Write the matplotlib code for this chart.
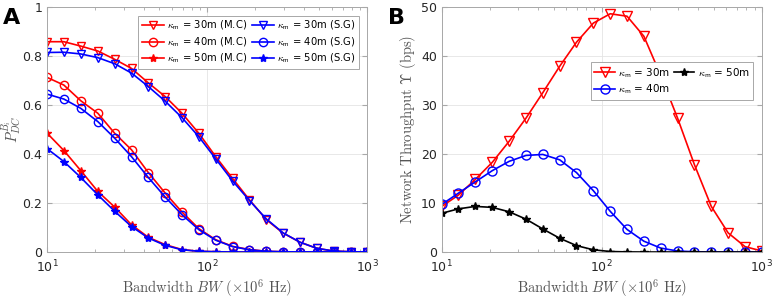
import matplotlib
matplotlib.use('Agg')
import matplotlib.pyplot as plt

plt.rcParams['font.family'] = ['DejaVu Sans']
plt.rcParams['mathtext.fontset'] = 'cm'

# bandwidth grid (x 10^6 Hz), 20 log-spaced points
bw = [10.0, 12.7, 16.2, 20.7, 26.4, 33.6, 42.8, 54.6, 69.5, 88.6,
      112.9, 143.8, 183.3, 233.6, 297.6, 379.3, 483.3, 615.8, 784.8, 1000.0]

# panel A: detection probability
p30_mc = [0.858, 0.858, 0.84, 0.82, 0.786, 0.749, 0.69, 0.634, 0.566, 0.484,
          0.389, 0.30, 0.213, 0.132, 0.077, 0.04, 0.015, 0.004, 0.001, 0.0]
p30_sg = [0.814, 0.815, 0.808, 0.793, 0.768, 0.73, 0.675, 0.615, 0.548, 0.47,
          0.38, 0.29, 0.21, 0.135, 0.078, 0.04, 0.015, 0.004, 0.001, 0.0]
p40_mc = [0.712, 0.681, 0.617, 0.566, 0.484, 0.417, 0.324, 0.24, 0.163, 0.095,
          0.05, 0.023, 0.01, 0.003, 0.001, 0.0, 0.0, 0.0, 0.0, 0.0]
p40_sg = [0.644, 0.624, 0.586, 0.532, 0.464, 0.389, 0.304, 0.224, 0.152, 0.091,
          0.048, 0.022, 0.009, 0.003, 0.001, 0.0, 0.0, 0.0, 0.0, 0.0]
p50_mc = [0.484, 0.414, 0.332, 0.247, 0.183, 0.111, 0.06, 0.03, 0.01, 0.003,
          0.001, 0.0, 0.0, 0.0, 0.0, 0.0, 0.0, 0.0, 0.0, 0.0]
p50_sg = [0.421, 0.369, 0.304, 0.233, 0.166, 0.104, 0.057, 0.027, 0.009, 0.003,
          0.001, 0.0, 0.0, 0.0, 0.0, 0.0, 0.0, 0.0, 0.0, 0.0]

# panel B: network throughput (bps)
t30 = [9.3, 11.6, 14.8, 18.3, 22.6, 27.3, 32.5, 37.9, 42.8, 46.7,
       48.6, 48.1, 44.0, 36.0, 27.3, 17.8, 9.3, 3.9, 1.1, 0.2]
t40 = [9.7, 12.0, 14.3, 16.6, 18.5, 19.7, 19.9, 18.8, 16.2, 12.5,
       8.3, 4.6, 2.2, 0.8, 0.2, 0.05, 0.0, 0.0, 0.0, 0.0]
t50 = [7.9, 8.8, 9.3, 9.1, 8.2, 6.7, 4.7, 2.8, 1.3, 0.45,
       0.1, 0.02, 0.0, 0.0, 0.0, 0.0, 0.0, 0.0, 0.0, 0.0]

xlabel = r'$\mathrm{Bandwidth}\ BW\ (\times 10^6\ \mathrm{Hz})$'
km = r'$\kappa_{\mathsf{m}}$'


def style(ax):
    ax.set_xscale('log')
    ax.set_xlim(10, 1000)
    ax.grid(True, which='major', color='#e4e4e4', linewidth=0.6)
    ax.set_axisbelow(True)
    for s in ax.spines.values():
        s.set_color('#a8a8a8')
        s.set_linewidth(0.7)
    ax.tick_params(which='both', direction='in', colors='#a8a8a8',
                   labelcolor='#262626', labelsize=9, top=True, right=True)
    ax.tick_params(which='minor', length=2)
    ax.tick_params(axis='x', which='major', pad=5)
    ax.set_xlabel(xlabel, fontsize=10.5, color='#555555', labelpad=1)


fig = plt.figure(figsize=(7.75, 3.0), dpi=100)
axA = fig.add_axes([0.061, 0.16, 0.413, 0.817])
axB = fig.add_axes([0.570, 0.16, 0.413, 0.817])

lw = 1.2
axA.plot(bw, p30_mc, color='red', marker='v', mfc='none', ms=6, lw=lw, label=km + ' = 30m (M.C)')
axA.plot(bw, p40_mc, color='red', marker='o', mfc='none', ms=6, lw=lw, label=km + ' = 40m (M.C)')
axA.plot(bw, p50_mc, color='red', marker='*', ms=6, lw=lw, label=km + ' = 50m (M.C)')
axA.plot(bw, p30_sg, color='blue', marker='v', mfc='none', ms=6, lw=lw, label=km + ' = 30m (S.G)')
axA.plot(bw, p40_sg, color='blue', marker='o', mfc='none', ms=6, lw=lw, label=km + ' = 40m (S.G)')
axA.plot(bw, p50_sg, color='blue', marker='*', ms=6, lw=lw, label=km + ' = 50m (S.G)')
style(axA)
axA.set_ylim(0, 1)
axA.set_yticks([0, 0.2, 0.4, 0.6, 0.8, 1])
axA.set_yticklabels(['0', '0.2', '0.4', '0.6', '0.8', '1'])
axA.set_ylabel(r'$P_{DC}^{B_i}$', fontsize=10.5, color='#555555')
axA.yaxis.set_label_coords(-0.072, 0.5)
legA = axA.legend(ncol=2, loc='upper right', fontsize=7.2, handlelength=2.2,
                  columnspacing=0.5, handletextpad=0.3, labelspacing=0.3,
                  borderpad=0.35, fancybox=False, framealpha=1,
                  bbox_to_anchor=(0.99, 0.985))
legA.get_frame().set_edgecolor('#a8a8a8')
legA.get_frame().set_linewidth(0.7)

axB.plot(bw, t30, color='red', marker='v', mfc='none', ms=6.5, lw=lw, label=km + ' = 30m')
axB.plot(bw, t40, color='blue', marker='o', mfc='none', ms=6.5, lw=lw, label=km + ' = 40m')
axB.plot(bw, t50, color='black', marker='*', ms=6, lw=lw, label=km + ' = 50m')
style(axB)
axB.set_ylim(0, 50)
axB.set_yticks([0, 10, 20, 30, 40, 50])
axB.set_ylabel(r'$\mathrm{Network\ Throughput}\ \Upsilon\ (\mathrm{bps})$',
               fontsize=10.5, color='#555555', labelpad=2)
legB = axB.legend(ncol=2, loc='upper right', fontsize=7.5, handlelength=2.0,
                  columnspacing=0.3, handletextpad=0.3, labelspacing=0.25,
                  borderpad=0.35, fancybox=False, framealpha=1,
                  bbox_to_anchor=(0.99, 0.795))
legB.get_frame().set_edgecolor('#a8a8a8')
legB.get_frame().set_linewidth(0.7)

fig.text(0.004, 0.975, 'A', fontsize=16, fontweight='bold', va='top')
fig.text(0.500, 0.975, 'B', fontsize=16, fontweight='bold', va='top')

fig.savefig('out.png', dpi=100)
